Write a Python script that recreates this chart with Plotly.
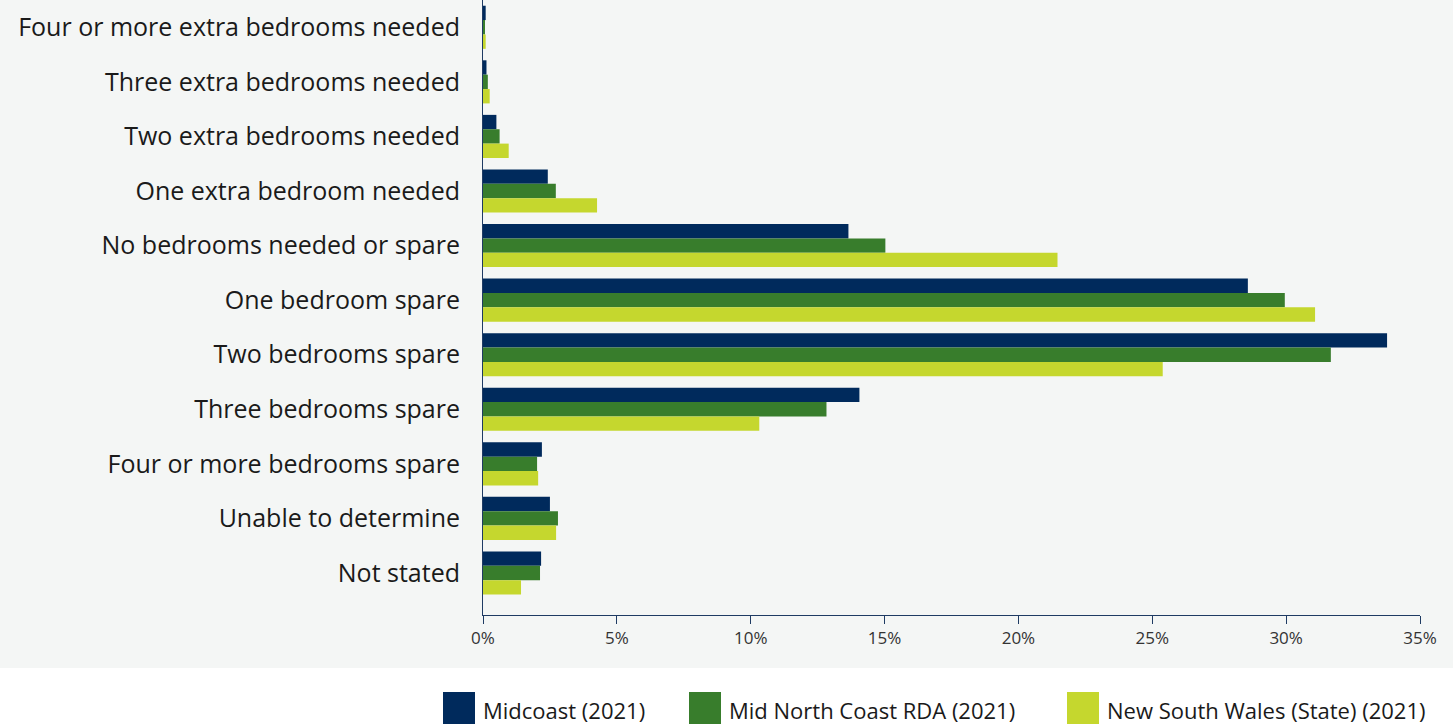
import plotly.graph_objects as go

categories = [
    "Four or more extra bedrooms needed",
    "Three extra bedrooms needed",
    "Two extra bedrooms needed",
    "One extra bedroom needed",
    "No bedrooms needed or spare",
    "One bedroom spare",
    "Two bedrooms spare",
    "Three bedrooms spare",
    "Four or more bedrooms spare",
    "Unable to determine",
    "Not stated",
]
midcoast = [0.10, 0.13, 0.50, 2.42, 13.65, 28.57, 33.77, 14.06, 2.20, 2.50, 2.17]
mid_north_coast = [0.05, 0.18, 0.62, 2.72, 15.03, 29.95, 31.67, 12.83, 2.02, 2.80, 2.13]
nsw = [0.10, 0.25, 0.96, 4.26, 21.46, 31.08, 25.39, 10.32, 2.06, 2.73, 1.42]

series_names = ["Midcoast (2021)", "Mid North Coast RDA (2021)", "New South Wales (State) (2021)"]
series_values = [midcoast, mid_north_coast, nsw]
colors = ["#002a5c", "#387d2c", "#c5d72e"]
x_tickvals = [0, 5, 10, 15, 20, 25, 30, 35]
x_ticktext = ["0%", "5%", "10%", "15%", "20%", "25%", "30%", "35%"]

FONT = "Open Sans"
W, H = 1453, 724
ML, MR, MT, MB = 483, 33, 0, 109
pw, ph = W - ML - MR, H - MT - MB

fig = go.Figure()
for name, vals, col in zip(series_names, series_values, colors):
    fig.add_trace(go.Bar(
        y=categories, x=vals, name=name, orientation="h",
        marker=dict(color=col, line=dict(width=0)),
        showlegend=False,
    ))

n = len(categories)
fig.update_layout(
    width=W, height=H,
    margin=dict(l=ML, r=MR, t=MT, b=MB, pad=0),
    barmode="group", bargap=0.21, bargroupgap=0.0,
    paper_bgcolor="#ffffff", plot_bgcolor="#f4f6f5",
    font=dict(family=FONT, color="#222222"),
    xaxis=dict(
        range=[0, 35], tickvals=x_tickvals, ticktext=x_ticktext,
        showgrid=False, zeroline=False,
        showline=True, linecolor="#1f3b63", linewidth=1,
        ticks="outside", ticklen=8, tickcolor="#1f3b63", tickwidth=1,
        tickfont=dict(size=17, color="#333333", family=FONT),
    ),
    yaxis=dict(
        categoryorder="array", categoryarray=categories,
        range=[n - 0.5 + 0.27, -0.5],
        showgrid=False, zeroline=False,
        showline=True, linecolor="#1f3b63", linewidth=1,
        ticks="", ticklabelstandoff=17,
        tickfont=dict(size=25, color="#1a1a1a", family=FONT),
    ),
)

# grey panel behind the chart area, spanning the full width
fig.add_shape(type="rect", xref="paper", yref="paper", layer="below",
              x0=-ML / pw, x1=(W - ML) / pw, y0=-(668 - ph) / ph, y1=1.0,
              fillcolor="#f4f6f5", line=dict(width=0))

# legend: large square swatches with labels
legend_x = [443, 689, 1067]
for name, col, lx in zip(series_names, colors, legend_x):
    fig.add_shape(type="rect", xref="paper", yref="paper",
                  x0=(lx - ML) / pw, x1=(lx + 32 - ML) / pw,
                  y0=(ph - 726) / ph, y1=(ph - 692) / ph,
                  fillcolor=col, line=dict(width=0))
    fig.add_annotation(text=name, xref="paper", yref="paper",
                       x=(lx + 38 - ML) / pw, y=(ph - 710) / ph,
                       xanchor="left", yanchor="middle", showarrow=False,
                       font=dict(size=22, color="#1a1a1a", family=FONT))

fig.write_html("out.html")
